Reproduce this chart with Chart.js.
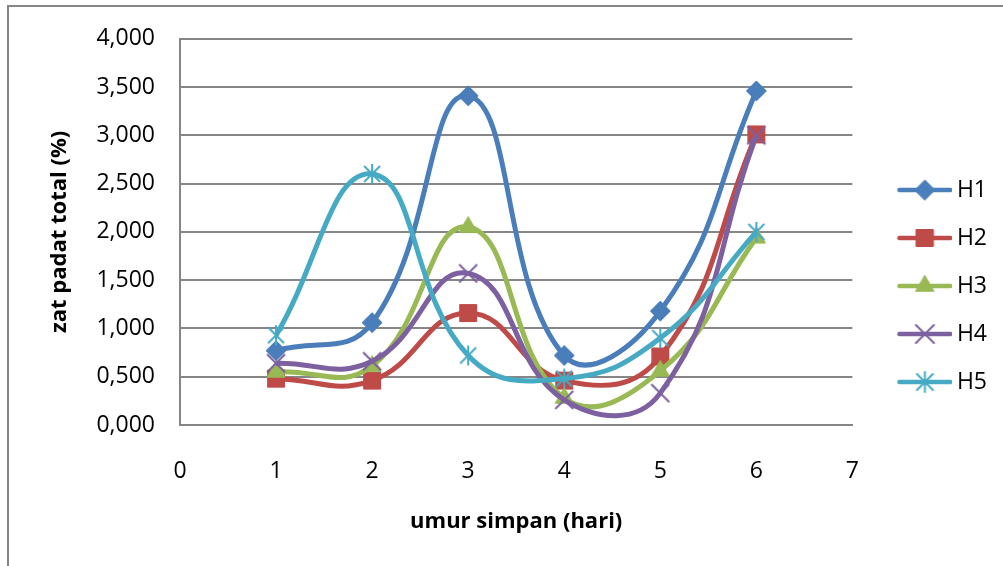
<!DOCTYPE html>
<html>
<head>
<meta charset="utf-8">
<script src="https://cdn.jsdelivr.net/npm/chart.js@4/dist/chart.umd.min.js"></script>
<style>
  html, body { margin: 0; padding: 0; background: #ffffff; }
  #wrap { position: relative; width: 1003px; height: 566px; overflow: hidden; }
  #frame { position: absolute; left: 7px; top: 5px; width: 1200px; height: 800px;
           border-left: 2px solid #868686; border-top: 2px solid #868686; }
  #c { position: absolute; left: 0; top: 0; }
</style>
</head>
<body>
<div id="wrap">
  <div id="frame"></div>
  <canvas id="c" width="1003" height="566"></canvas>
</div>
<script>
// storage days (x) and total solids per treatment
const days = [1, 2, 3, 4, 5, 6];
const seriesNames = ['H1', 'H2', 'H3', 'H4', 'H5'];
const H1 = [0.77, 1.06, 3.41, 0.72, 1.18, 3.46];
const H2 = [0.48, 0.46, 1.16, 0.46, 0.71, 3.01];
const H3 = [0.55, 0.61, 2.05, 0.28, 0.56, 1.94];
const H4 = [0.64, 0.66, 1.57, 0.26, 0.33, 3.00];
const H5 = [0.93, 2.60, 0.72, 0.48, 0.90, 2.00];
const yTickLabels = ['0,000', '0,500', '1,000', '1,500', '2,000', '2,500', '3,000', '3,500', '4,000'];
const xTickLabels = ['0', '1', '2', '3', '4', '5', '6', '7'];

const seriesValues = [H1, H2, H3, H4, H5];
const colors = ['#4A7EBB', '#BE4B48', '#98B954', '#7D60A0', '#46AAC5'];
const markers = ['diamond', 'square', 'triangle', 'x', 'asterisk'];

// draws one marker shape on a 2d context
function drawMarker(ctx, kind, x, y, color) {
  ctx.save();
  ctx.fillStyle = color;
  ctx.strokeStyle = color;
  ctx.lineWidth = 1;
  ctx.beginPath();
  if (kind === 'diamond') {
    const r = 10;
    ctx.moveTo(x - r, y); ctx.lineTo(x, y - r); ctx.lineTo(x + r, y); ctx.lineTo(x, y + r);
    ctx.closePath(); ctx.fill(); ctx.stroke();
  } else if (kind === 'square') {
    const h = 8.5;
    ctx.rect(x - h, y - h, 2 * h, 2 * h); ctx.fill(); ctx.stroke();
  } else if (kind === 'triangle') {
    const r = 10.5;
    ctx.moveTo(x, y - r);
    ctx.lineTo(x + r * 0.866, y + r * 0.5);
    ctx.lineTo(x - r * 0.866, y + r * 0.5);
    ctx.closePath(); ctx.fill(); ctx.stroke();
  } else if (kind === 'x') {
    const h = 9;
    ctx.lineWidth = 2;
    ctx.moveTo(x - h, y - h); ctx.lineTo(x + h, y + h);
    ctx.moveTo(x + h, y - h); ctx.lineTo(x - h, y + h);
    ctx.stroke();
  } else if (kind === 'asterisk') {
    const h = 8, v = 10;
    ctx.lineWidth = 2;
    ctx.moveTo(x - h, y - h); ctx.lineTo(x + h, y + h);
    ctx.moveTo(x + h, y - h); ctx.lineTo(x - h, y + h);
    ctx.moveTo(x, y - v); ctx.lineTo(x, y + v);
    ctx.stroke();
  }
  ctx.restore();
}

// marker as a standalone canvas, used as a point style
function markerCanvas(kind, color) {
  const cv = document.createElement('canvas');
  cv.width = 26; cv.height = 26;
  drawMarker(cv.getContext('2d'), kind, 13, 13, color);
  return cv;
}

// legend key: a short line with the marker in the middle
function legendKey(kind, color) {
  const cv = document.createElement('canvas');
  cv.width = 82; cv.height = 26;
  const ctx = cv.getContext('2d');
  ctx.strokeStyle = color;
  ctx.lineWidth = 4.5;
  ctx.lineCap = 'round';
  ctx.beginPath();
  ctx.moveTo(29, 13); ctx.lineTo(80, 13);
  ctx.stroke();
  drawMarker(ctx, kind, 54.5, 13, color);
  return cv;
}

const datasets = seriesNames.map((name, i) => ({
  label: name,
  data: days.map((d, j) => ({ x: d, y: seriesValues[i][j] })),
  borderColor: colors[i],
  backgroundColor: colors[i],
  borderWidth: 5,
  tension: 0.45,
  fill: false,
  pointStyle: markerCanvas(markers[i], colors[i]),
  pointRadius: 10,
  pointHoverRadius: 10,
  order: seriesNames.length - i
}));

Chart.defaults.font.family = "'Open Sans', sans-serif";
Chart.defaults.color = '#000000';

new Chart(document.getElementById('c'), {
  type: 'line',
  data: { datasets },
  options: {
    responsive: false,
    animation: false,
    events: [],
    layout: { padding: { top: 36, bottom: 30, left: 0, right: 6 } },
    plugins: {
      tooltip: { enabled: false },
      legend: {
        position: 'right',
        align: 'center',
        labels: {
          usePointStyle: true,
          pointStyleWidth: 68,
          padding: 25,
          font: { size: 23 },
          color: '#000000',
          generateLabels: (chart) => chart.data.datasets.map((ds, i) => ({
            text: ds.label,
            pointStyle: legendKey(markers[i], colors[i]),
            fillStyle: colors[i],
            strokeStyle: colors[i],
            lineWidth: 0,
            hidden: false,
            datasetIndex: i
          }))
        }
      }
    },
    scales: {
      x: {
        type: 'linear',
        min: 0,
        max: 7,
        afterFit: (s) => { s.height = 111; },
        grid: { display: false },
        border: { display: true, color: '#868686', width: 2 },
        ticks: {
          stepSize: 1,
          padding: 25,
          font: { size: 23 },
          color: '#000000',
          maxRotation: 0,
          callback: (v, i) => xTickLabels[i]
        },
        title: {
          display: true,
          text: 'umur simpan (hari)',
          font: { size: 22, weight: 'bold' },
          color: '#000000',
          padding: { top: 0, bottom: 1 }
        }
      },
      y: {
        min: 0,
        max: 4,
        afterFit: (s) => { s.width = 180; },
        grid: { color: '#868686', lineWidth: 2, drawTicks: false },
        border: { display: true, color: '#868686', width: 2 },
        ticks: {
          stepSize: 0.5,
          padding: 25,
          font: { size: 23 },
          color: '#000000',
          callback: (v, i) => yTickLabels[i]
        },
        title: {
          display: true,
          text: 'zat padat total (%)',
          font: { size: 22, weight: 'bold' },
          color: '#000000',
          padding: { top: 47, bottom: 0 }
        }
      }
    }
  }
});
</script>
</body>
</html>
